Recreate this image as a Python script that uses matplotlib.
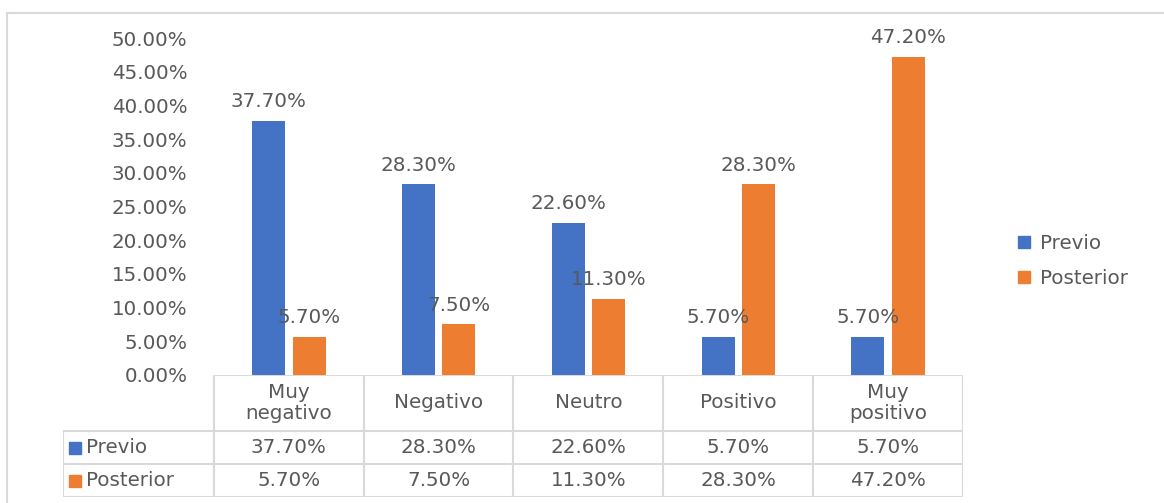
import numpy as np
import matplotlib
matplotlib.use('Agg')
import matplotlib.pyplot as plt
from matplotlib.patches import Rectangle
from matplotlib.lines import Line2D

categories = ['Muy\nnegativo', 'Negativo', 'Neutro', 'Positivo', 'Muy\npositivo']
series_names = ['Previo', 'Posterior']
previo = [37.7, 28.3, 22.6, 5.7, 5.7]
posterior = [5.7, 7.5, 11.3, 28.3, 47.2]
y_ticks = [0, 5, 10, 15, 20, 25, 30, 35, 40, 45, 50]

BLUE = '#4472C4'
ORANGE = '#ED7D31'
TEXT = '#595959'
GRID = '#D9D9D9'
FS = 14.3

plt.rcParams['font.family'] = 'DejaVu Sans'

W, H = 1164, 503
fig = plt.figure(figsize=(W / 100, H / 100), dpi=100, facecolor='white')


def px_rect(x0, y0, x1, y1):
    # pixel box (top-left origin) -> figure fraction [l, b, w, h]
    return [x0 / W, 1 - y1 / H, (x1 - x0) / W, (y1 - y0) / H]


# outer chart border
fig.patches.append(Rectangle((7 / W, -0.1), 1.2, 1 - 13 / H + 0.1,
                             transform=fig.transFigure, fill=False,
                             edgecolor=GRID, linewidth=1.5))

# ---- bar area ----
ax = fig.add_axes(px_rect(214, 38, 963, 375))
x = np.arange(len(categories))
bw = 0.22
off = 0.135
b1 = ax.bar(x - off, previo, bw, color=BLUE, label='Previo')
b2 = ax.bar(x + off, posterior, bw, color=ORANGE, label='Posterior')
for bars, vals in ((b1, previo), (b2, posterior)):
    for bar, v in zip(bars, vals):
        ax.annotate(f'{v:.2f}%', (bar.get_x() + bar.get_width() / 2, v),
                    xytext=(0, 7), textcoords='offset points',
                    ha='center', va='bottom', color=TEXT, fontsize=FS)

ax.set_xlim(-0.5, len(categories) - 0.5)
ax.set_ylim(0, 50)
ax.set_yticks(y_ticks)
ax.set_yticklabels([f'{t:.2f}%' for t in y_ticks])
ax.set_xticks([])
ax.tick_params(axis='y', length=0, pad=19, labelsize=FS, labelcolor=TEXT)
for s in ax.spines.values():
    s.set_visible(False)

# ---- data table ----
tax = fig.add_axes(px_rect(63, 375, 963, 497))
label_w = (214 - 63) / 150
tax.set_xlim(-0.5 - label_w, len(categories) - 0.5)
row_edges = [0, 56, 89, 122]
tax.set_ylim(row_edges[-1], row_edges[0])
tax.axis('off')

lk = dict(color=GRID, linewidth=1.5, solid_capstyle='projecting')
left = -0.5 - label_w
right = len(categories) - 0.5
# horizontal lines
tax.plot([-0.5, right], [row_edges[0]] * 2, **lk)
for ye in row_edges[1:]:
    tax.plot([left, right], [ye] * 2, **lk)
# vertical lines
for i in range(len(categories) + 1):
    tax.plot([i - 0.5] * 2, [row_edges[0], row_edges[-1]], **lk)
tax.plot([left] * 2, [row_edges[1], row_edges[-1]], **lk)

for i, c in enumerate(categories):
    tax.text(i, (row_edges[0] + row_edges[1]) / 2, c, ha='center', va='center',
             color=TEXT, fontsize=FS, linespacing=1.1)

for r, (name, vals, col) in enumerate(zip(series_names, (previo, posterior), (BLUE, ORANGE))):
    yc = (row_edges[r + 1] + row_edges[r + 2]) / 2
    tax.plot(left + 0.08, yc, marker='s', markersize=8, color=col, linestyle='none')
    tax.text(left + 0.155, yc, name, ha='left', va='center', color=TEXT, fontsize=FS)
    for i, v in enumerate(vals):
        tax.text(i, yc, f'{v:.2f}%', ha='center', va='center', color=TEXT, fontsize=FS)

# ---- legend ----
handles = [Line2D([], [], marker='s', markersize=9, color=BLUE, linestyle='none'),
           Line2D([], [], marker='s', markersize=9, color=ORANGE, linestyle='none')]
fig.legend(handles, series_names, loc='center left',
           bbox_to_anchor=(998 / W, 1 - 261 / H), frameon=False,
           fontsize=FS, labelcolor=TEXT, handlelength=0.8, handletextpad=0.4,
           labelspacing=0.8)

fig.savefig('out.png', dpi=100, facecolor='white')
